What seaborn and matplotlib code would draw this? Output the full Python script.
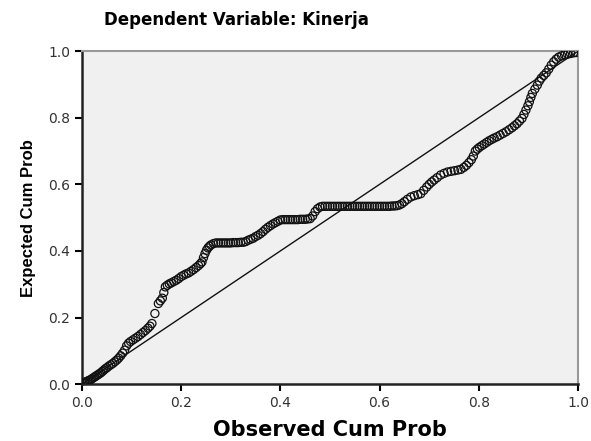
import matplotlib
matplotlib.use("Agg")
import matplotlib.pyplot as plt
import seaborn as sns
import pandas as pd

# Normal P-P plot of regression standardized residual
observed = [
    # lower tail, close to the diagonal, then above it
    0.002, 0.005, 0.008, 0.011, 0.014, 0.017, 0.020, 0.023, 0.026, 0.029,
    0.032, 0.035, 0.038, 0.041, 0.044, 0.047, 0.050, 0.054, 0.058, 0.062,
    0.066, 0.070, 0.074, 0.078, 0.082, 0.086, 0.090, 0.094, 0.098, 0.103,
    0.108, 0.113, 0.118, 0.123, 0.128, 0.133, 0.137, 0.141, 0.147, 0.154,
    0.158, 0.162, 0.165, 0.168, 0.172, 0.176, 0.180, 0.185, 0.190, 0.195,
    0.200, 0.205, 0.210, 0.215, 0.220, 0.225, 0.230, 0.235, 0.239, 0.242,
    0.245, 0.248, 0.251, 0.254, 0.257, 0.260,
    # first flat run
    0.265, 0.270, 0.275, 0.280, 0.285, 0.290, 0.295, 0.300, 0.305, 0.310,
    0.315, 0.320, 0.325, 0.330,
    0.335, 0.340, 0.345, 0.350, 0.355, 0.360, 0.365, 0.370, 0.375, 0.380,
    0.385, 0.390, 0.395,
    # second flat run
    0.400, 0.405, 0.410, 0.415, 0.420, 0.425, 0.430, 0.435, 0.440, 0.445,
    0.450, 0.455, 0.460,
    0.465, 0.470, 0.475, 0.480,
    # long flat run across the diagonal
    0.485, 0.490, 0.495, 0.500, 0.505, 0.510, 0.515, 0.520, 0.525, 0.530,
    0.535, 0.540, 0.545, 0.550, 0.555, 0.560, 0.565, 0.570, 0.575, 0.580,
    0.585, 0.590, 0.595, 0.600, 0.605, 0.610, 0.615, 0.620, 0.625, 0.630,
    0.635, 0.640,
    # upper part, below the diagonal
    0.645, 0.650, 0.656, 0.663, 0.670, 0.677, 0.683, 0.689, 0.695, 0.700,
    0.705, 0.710, 0.716, 0.723, 0.730, 0.737, 0.744, 0.751, 0.758, 0.764,
    0.770, 0.775, 0.780, 0.785, 0.789, 0.793, 0.797, 0.801, 0.806, 0.811,
    0.816, 0.821, 0.826, 0.831, 0.837, 0.843, 0.849, 0.855, 0.861, 0.867,
    0.872, 0.877, 0.882, 0.887, 0.891, 0.895, 0.899, 0.902, 0.905, 0.908,
    0.913, 0.918, 0.922, 0.926, 0.931, 0.936, 0.941, 0.946, 0.951, 0.956,
    0.961, 0.967, 0.973, 0.979, 0.985, 0.991, 0.996,
]
expected = [
    0.003, 0.005, 0.007, 0.009, 0.011, 0.013, 0.016, 0.019, 0.022, 0.025,
    0.028, 0.031, 0.034, 0.038, 0.042, 0.046, 0.049, 0.054, 0.058, 0.062,
    0.067, 0.072, 0.078, 0.085, 0.093, 0.102, 0.115, 0.123, 0.128, 0.133,
    0.138, 0.143, 0.149, 0.155, 0.161, 0.168, 0.174, 0.182, 0.212, 0.242,
    0.250, 0.258, 0.275, 0.292, 0.297, 0.301, 0.304, 0.308, 0.312, 0.317,
    0.323, 0.327, 0.331, 0.334, 0.339, 0.344, 0.350, 0.356, 0.362, 0.367,
    0.380, 0.392, 0.402, 0.409, 0.414, 0.418,
    0.422, 0.424, 0.424, 0.424, 0.424, 0.424, 0.424, 0.424, 0.425, 0.425,
    0.425, 0.426, 0.426, 0.428,
    0.432, 0.435, 0.438, 0.443, 0.447, 0.452, 0.458, 0.465, 0.471, 0.476,
    0.481, 0.485, 0.489,
    0.493, 0.494, 0.494, 0.494, 0.494, 0.494, 0.494, 0.494, 0.495, 0.495,
    0.495, 0.496, 0.497,
    0.505, 0.518, 0.527, 0.532,
    0.534, 0.534, 0.534, 0.534, 0.534, 0.534, 0.534, 0.534, 0.534, 0.534,
    0.534, 0.534, 0.534, 0.534, 0.534, 0.534, 0.534, 0.534, 0.534, 0.534,
    0.534, 0.534, 0.534, 0.534, 0.534, 0.534, 0.534, 0.534, 0.535, 0.535,
    0.536, 0.538,
    0.542, 0.548, 0.555, 0.562, 0.566, 0.569, 0.572, 0.582, 0.592, 0.600,
    0.607, 0.613, 0.620, 0.628, 0.633, 0.637, 0.639, 0.641, 0.643, 0.645,
    0.651, 0.657, 0.665, 0.674, 0.685, 0.700, 0.706, 0.711, 0.716, 0.721,
    0.726, 0.731, 0.735, 0.739, 0.743, 0.748, 0.753, 0.758, 0.764, 0.770,
    0.776, 0.782, 0.790, 0.798, 0.810, 0.823, 0.836, 0.848, 0.861, 0.873,
    0.886, 0.898, 0.910, 0.919, 0.927, 0.935, 0.946, 0.958, 0.968, 0.976,
    0.982, 0.986, 0.989, 0.991, 0.993, 0.995, 0.996,
]

df = pd.DataFrame({"Observed Cum Prob": observed, "Expected Cum Prob": expected})

sns.set_style("ticks")
plt.rcParams["font.family"] = ["DejaVu Sans"]

fig = plt.figure(figsize=(5.91, 4.41), dpi=100)
ax = fig.add_axes([0.1387, 0.129, 0.8393, 0.755])
ax.set_facecolor("#f0f0f0")

# reference diagonal
ax.plot([0, 1], [0, 1], color="#111111", linewidth=1.0, zorder=2)

sns.scatterplot(data=df, x="Observed Cum Prob", y="Expected Cum Prob", ax=ax,
                marker="o", s=34, fc="none", ec="#111111", linewidth=0.9,
                zorder=3)

ax.set_xlim(0, 1)
ax.set_ylim(0, 1)
ticks = [0.0, 0.2, 0.4, 0.6, 0.8, 1.0]
ax.set_xticks(ticks)
ax.set_yticks(ticks)
ax.set_xticklabels([f"{t:.1f}" for t in ticks])
ax.set_yticklabels([f"{t:.1f}" for t in ticks])
ax.tick_params(axis="both", direction="out", length=5, width=1.5,
               labelsize=10, colors="black", labelcolor="#333333")

for side in ["left", "bottom"]:
    ax.spines[side].set_linewidth(1.8)
    ax.spines[side].set_color("#222222")
for side in ["top", "right"]:
    ax.spines[side].set_visible(True)
    ax.spines[side].set_linewidth(1.5)
    ax.spines[side].set_color("#999999")

ax.set_xlabel("Observed Cum Prob", fontsize=15, fontweight="bold", labelpad=7,
              color="black")
ax.set_ylabel("Expected Cum Prob", fontsize=12, fontweight="bold", labelpad=9,
              family=["Liberation Sans Narrow", "Liberation Sans"], color="black")

fig.text(0.40, 0.955, "Dependent Variable: Kinerja", ha="center", va="center",
         fontsize=12, fontweight="bold", color="black")

fig.savefig("out.png", dpi=100)
